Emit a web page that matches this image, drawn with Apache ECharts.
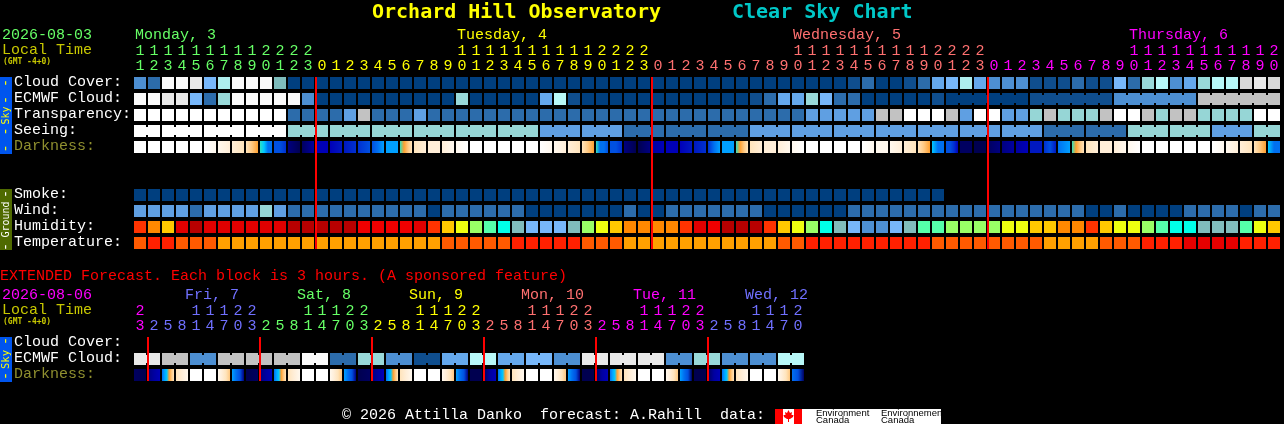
<!DOCTYPE html>
<html><head><meta charset="utf-8">
<style>html,body{margin:0;padding:0;background:#000}#c{width:1284px;height:424px}</style>
<script src="https://cdn.jsdelivr.net/npm/echarts@6/dist/echarts.min.js"></script>
</head><body><div id="c"></div>
<script>
const hoursMain=[11,12,13,14,15,16,17,18,19,20,21,22,23,0,1,2,3,4,5,6,7,8,9,10,11,12,13,14,15,16,17,18,19,20,21,22,23,0,1,2,3,4,5,6,7,8,9,10,11,12,13,14,15,16,17,18,19,20,21,22,23,0,1,2,3,4,5,6,7,8,9,10,11,12,13,14,15,16,17,18,19,20];
const hoursExt=[23,2,5,8,11,14,17,20,23,2,5,8,11,14,17,20,23,2,5,8,11,14,17,20,23,2,5,8,11,14,17,20,23,2,5,8,11,14,17,20,23,2,5,8,11,14,17,20];
const rowsMain=['Cloud Cover:','ECMWF Cloud:','Transparency:','Seeing:','Darkness:','','','Smoke:','Wind:','Humidity:','Temperature:'];
const rowsExt=['Cloud Cover:','ECMWF Cloud:','Darkness:'];
const daysMain=['Monday, 3','Tuesday, 4','Wednesday, 5','Thursday, 6'];
const daysExt=['Fri, 7','Sat, 8','Sun, 9','Mon, 10','Tue, 11','Wed, 12'];

const cloudCover=[20,10,100,100,90,40,70,100,100,100,50,
0,0,0,0,0,0,0,0,0,0,0,0,0,0,0,0,0,0,0,0,0,0,0,0,0,0,0,0,0,0,0,0,0,0,0,0,0,0,0,0,
5,10,0,0,5,10,30,40,70,30,20,20,20,5,5,5,10,5,5,40,10,60,75,20,30,60,75,75,85,90,85];
const ecmwfCloud=[100,100,90,90,40,10,60,100,100,100,100,100,20,
0,0,0,0,0,0,0,0,0,0,60,0,0,0,0,0,30,75,5,
0,0,0,0,0,0,0,0,0,0,0,0,5,10,30,30,60,40,10,10,
0,0,0,0,0,5,
0,0,0,0,0,0,5,5,5,5,5,5,20,20,20,20,20,20,80,80,80,80,80,80];
const ecmwfJoined=[[58,63],[64,69],[70,75],[76,81]];
const transparency=[5,5,5,5,5,5,5,5,5,5,5,1,1,1,1,2,4,1,1,1,2,
1,1,1,1,1,1,1,1,1,1,1,1,1,1,1,1,1,1,1,1,1,1,1,1,1,1,1,2,2,2,2,
2,4,4,5,5,5,4,2,5,5,2,2,3,4,3,3,3,4,5,5,4,3,4,4,3,3,3,3,5,5];
const seeingBlocks=[5,5,5,5,3,3,3,3,3,3,2,2,1,1,1,2,2,2,2,2,2,2,1,1,3,3,2,3];
const seeingSpans=[2,3,3,3,3,3,3,3,3,3,3,3,3,3,3,3,3,3,3,3,3,3,3,3,3,3,3,2];
const darkness=[[0],[0],[0],[0],[0],[0,1],[1,2],[2,3],[3,4,5],[6,7,9,9],[10,10,11],[15,17],[16,14],[13],[13,12],[12,11],[11,10],[10,9,8],[8],[6,5,4,3],[3,2],[2],[2,1],[1,0],
[0],[0],[0],[0],[0],[0,1],[1,2],[2,3],[3,4,5],[6,9,9,10],[10,10,11],[15,17],[17,15],[14,13],[13],[13,12],[12,11],[11,9,8],[8,8],[6,5,4,3],[3,2],[2],[2,1],[1,0],
[0],[0],[0],[0],[0,1],[1],[1,2],[2,3],[3,4,5],[7,9,9],[10,10,11,13],[16],[17],[16,15],[15,14],[14,13],[12],[11,10,12],[9,8],[6,5,4,3],[3,2],[2],[2,1],[1,0],
[0],[0],[0],[0],[0],[0,1],[1,2],[2,3],[3,4,5],[7,9,9]];
const smoke=[0,0,0,0,0,0,0,0,0,0,0,0,0,0,0,0,0,0,0,0,0,0,0,0,0,0,0,0,0,0,0,0,0,0,0,0,0,0,0,0,0,0,0,0,0,0,0,0,0,0,0,0,0,0,0,0,0,0];
const wind=[2,2,2,2,1,2,2,2,2,3,2,1,1,1,1,1,1,1,1,1,1,0,1,1,1,1,1,1,0,0,0,0,0,0,0,1,0,0,1,1,1,1,1,1,1,0,0,0,0,0,0,1,
1,1,1,1,1,1,1,1,1,1,1,1,1,1,1,1,0,0,1,0,0,0,0,1,1,1,1,0,1,1];
const humidity=[75,70,65,85,95,85,85,85,85,85,85,95,95,95,95,95,80,80,80,80,85,
75,65,60,55,50,45,40,35,35,35,40,55,60,65,70,70,70,70,75,85,80,95,95,95,75,65,60,55,45,40,35,
30,30,35,40,50,50,55,55,55,55,60,60,65,65,70,70,75,65,60,60,55,50,45,45,40,40,40,50,60,65];
const temperature=[25,30,30,25,25,25,20,20,20,20,20,20,20,20,20,20,20,20,20,20,20,20,25,25,25,25,25,30,30,30,30,30,25,25,25,
20,20,20,20,20,20,20,20,20,20,20,25,25,30,30,30,30,30,30,30,30,30,25,25,25,25,25,25,25,25,20,20,20,20,25,25,25,30,30,30,35,35,35,35,30,30,30];
const ecmwfExtBlocks=[90,80,20,80,80,80,100,10,60,20,5,30,75,30,40,20,90,90,90,20,60,20,20,75];
const darknessExt=[[16,17],[15,14,13],[9,8,7,5,4,3],[3,2,1],[0],[0],[1,2,3,4],[8,9,10,15],
[17,16],[15,14,13],[9,8,7,5,4,3],[3,2,1],[0],[0],[1,2,3,4],[8,9,10,15],
[17,16],[15,14,13],[9,8,7,5,4,3],[3,2,1],[0],[0],[1,2,3,4],[8,9,10,15],
[17,17],[16,14,13],[9,8,7,5,4,3],[3,2,1],[0],[0],[1,2,3,4],[8,9,10,15],
[17,17],[16,14,13],[9,8,7,5,4,3],[3,2,1],[0],[0],[1,2,3,4],[8,9,10,16],
[17,17],[16,14,13],[9,8,7,5,4,3],[3,2,1],[0],[0],[1,2,3,4],[9,10,16]];

const cloudColors={0:'#003f7f',5:'#0f4e8e',10:'#2c6cab',20:'#4d8fd2',30:'#65a8ec',40:'#77b7fa',50:'#7ebcbc',60:'#99d9d9',70:'#aeeeee',75:'#b8f8f8',80:'#c2c2c2',85:'#d8d8d8',90:'#e9e9e9',100:'#fafafa'};
const skyColors=['#003f7f','#2c6cab','#5f9fe2','#96d6d6','#c2c2c2','#ffffff'];
const humidityColors={30:'#4d8fd2',35:'#77b7fa',40:'#80bcbc',45:'#00ffe8',50:'#55ffaa',55:'#99ff66',60:'#eeff10',65:'#ffc800',70:'#ff8800',75:'#ff3300',80:'#f00000',85:'#e00000',95:'#b80000'};
const temperatureColors={20:'#ffa000',25:'#ff5a00',30:'#ff2000',35:'#e60000'};
const darknessColors=['#ffffff','#fff8ee','#ffeed8','#ffe4bc','#ffc880','#ffa030','#30e0c0','#00c8ff','#00a0ff','#0070f0','#0050e0','#0030d0','#0018c0','#0000b8','#0000a0','#000080','#000060','#000050'];
const dayColors=['#66ff66','#ffff00','#ff7070','#ff00ff','#7070ff'];
const FONT='"Liberation Mono",monospace';
const TITLE_FONT='"DejaVu Sans Mono",monospace';

function dayColorMain(c){return c<13?dayColors[0]:c<37?dayColors[1]:c<61?dayColors[2]:dayColors[3];}
function dayColorExt(c){if(c<1)return dayColors[3];return [dayColors[4],dayColors[0],dayColors[1],dayColors[2],dayColors[3],dayColors[4]][Math.floor((c-1)/8)];}

const cellsMain=[],joinsMain=[],darkMain=[];
function pushRow(arr,row,pal){arr.forEach((v,c)=>cellsMain.push([c,row,pal[v]]));}
pushRow(cloudCover,0,cloudColors);pushRow(ecmwfCloud,1,cloudColors);pushRow(transparency,2,skyColors);
pushRow(smoke,7,skyColors);pushRow(wind,8,skyColors);pushRow(humidity,9,humidityColors);pushRow(temperature,10,temperatureColors);
let sc=0;seeingBlocks.forEach((v,i)=>{for(let k=0;k<seeingSpans[i];k++,sc++){cellsMain.push([sc,3,skyColors[v]]);if(k<seeingSpans[i]-1)joinsMain.push([sc,3,skyColors[v]]);}});
ecmwfJoined.forEach(g=>{for(let c=g[0];c<g[1];c++)joinsMain.push([c,1,cloudColors[ecmwfCloud[c]]]);});
darkness.forEach((s,c)=>darkMain.push([c,4,c]));
const cellsExt=[],joinsExt=[],darkExt=[];
ecmwfExtBlocks.forEach((v,i)=>{cellsExt.push([2*i,1,cloudColors[v]],[2*i+1,1,cloudColors[v]]);joinsExt.push([2*i,1,cloudColors[v]]);});
darknessExt.forEach((s,c)=>darkExt.push([c,2,c]));

function cellRect(api){
  const p=api.coord([api.value(0),api.value(1)]);
  return {x:p[0]-6,y:p[1]-6,width:12,height:12};
}
function renderCell(params,api){
  return {type:'rect',shape:cellRect(api),style:{fill:api.value(2)},silent:true};
}
function renderJoin(params,api){
  const r=cellRect(api);
  return {type:'rect',shape:{x:r.x+12,y:r.y+2,width:2,height:8},style:{fill:api.value(2)},silent:true};
}
function gradRender(stopsTable){
  return function(params,api){
    const s=stopsTable[api.value(2)];
    const fill=s.length===1?darknessColors[s[0]]:new echarts.graphic.LinearGradient(0,0,1,0,s.map((l,i)=>({offset:i/(s.length-1),color:darknessColors[l]})));
    return {type:'rect',shape:cellRect(api),style:{fill:fill},silent:true};
  };
}
function renderRed(params,api){
  const a=api.coord([api.value(0),api.value(1)]),b=api.coord([api.value(0),api.value(2)]);
  return {type:'rect',shape:{x:a[0]-7,y:a[1]-6,width:2,height:b[1]-a[1]+12},style:{fill:'#ff0000'},silent:true,z2:50};
}
function custom(renderItem,data,xi,yi,z){
  return {type:'custom',coordinateSystem:'cartesian2d',xAxisIndex:xi,yAxisIndex:yi,renderItem,data,encode:{x:0,y:1},clip:false,z:z||2,animation:false,silent:true};
}
function xAx(grid,cats,fmt,colorFn,offset,margin){
  return {type:'category',gridIndex:grid,position:'top',offset,data:cats.map((h,i)=>i),axisLine:{show:false},axisTick:{show:false},splitLine:{show:false},
    axisLabel:{interval:0,margin,hideOverlap:false,fontFamily:FONT,fontSize:15,formatter:(v,i)=>fmt(cats[i]),color:(v,i)=>colorFn(+v)}};
}
function yAxHidden(grid,rows){
  return {type:'category',gridIndex:grid,inverse:true,data:rows,axisLine:{show:false},axisTick:{show:false},splitLine:{show:false},axisLabel:{show:false}};
}
function yAx(grid,rows){
  return {type:'category',gridIndex:grid,inverse:true,data:rows,axisLine:{show:false},axisTick:{show:false},splitLine:{show:false},
    axisLabel:{interval:0,margin:119,align:'left',fontFamily:FONT,fontSize:15,color:v=>v==='Darkness:'?'#8f8f2f':'#ffffff'}};
}
const xHidden=g=>({type:'category',gridIndex:g,show:false,data:['']});
const units=h=>String(h%10),tens=h=>h>=10?String(Math.floor(h/10)):'';
const LEFT=133,STEP=14;
function txt(text,x,y,fill,size,extra){
  const ex=extra||{};
  return Object.assign({type:'text',x,y,silent:true,z:100,style:{text,fill,font:(ex.bold?'bold ':'')+size+'px '+(ex.family||FONT),textAlign:ex.align||'left',textVerticalAlign:'middle'}},ex.rotation?{rotation:ex.rotation}:{});
}
const SANS='"Liberation Sans",sans-serif';
const UP=Math.PI/2;
const side=(t,y,c,s)=>txt(t,6,y,c,s,{align:'center',rotation:UP,family:TITLE_FONT});
const els=[
 txt('Orchard Hill Observatory',372,13,'#ffff00',20,{bold:true,family:TITLE_FONT}),
 txt('Clear Sky Chart',732,13,'#00c8c8',20,{bold:true,family:TITLE_FONT}),
 txt('2026-08-03',2,35,'#66ff66',15),
 txt('Local Time',2,50,'#c8c800',15),
 txt('(GMT -4+0)',3,62,'#c8c800',8,{bold:true,family:TITLE_FONT}),
 txt('EXTENDED Forecast. Each block is 3 hours. (A sponsored feature)',0,276,'#ff0000',15),
 txt('2026-08-06',2,295,'#ff00ff',15),
 txt('Local Time',2,310,'#c8c800',15),
 txt('(GMT -4+0)',3,322,'#c8c800',8,{bold:true,family:TITLE_FONT}),
 txt('\u00a9 2026 Attilla Danko  forecast: A.Rahill  data:',342,415,'#ffffff',15),
 {type:'rect',shape:{x:0,y:77,width:12,height:77},style:{fill:'#0055ee'},z:90,silent:true},
 {type:'rect',shape:{x:0,y:189,width:12,height:61},style:{fill:'#4f6a00'},z:90,silent:true},
 {type:'rect',shape:{x:0,y:337,width:12,height:45},style:{fill:'#0055ee'},z:90,silent:true},
 side('- -',91.5,'#ffff00',14),side('Sky',115.5,'#ffff00',10),side('- -',140,'#ffff00',14),
 side('-',194,'#ffffff',14),side('Ground',219.5,'#ffffff',10),side('-',247,'#ffffff',14),
 side('-',341,'#ffff00',14),side('Sky',359.5,'#ffff00',10.5),side('-',376,'#ffff00',14),
 {type:'rect',shape:{x:775,y:409,width:166,height:15},style:{fill:'#ffffff'},z:90,silent:true},
 {type:'rect',shape:{x:775,y:409,width:8,height:15},style:{fill:'#ff0000'},z:91,silent:true},
 {type:'rect',shape:{x:794,y:409,width:8,height:15},style:{fill:'#ff0000'},z:91,silent:true},
 {type:'polygon',shape:{points:[[788.5,410],[790,413],[792,412],[791.5,415],[793.5,415],[793,417],[790,419],[789,419],[789,422],[788,422],[788,419],[787,419],[784,417],[783.5,415],[785.5,415],[785,412],[787,413]]},style:{fill:'#ff0000'},z:91,silent:true},
 txt('Environment',816,413,'#000000',9.5,{family:SANS}),
 txt('Canada',816,420,'#000000',9.5,{family:SANS}),
 txt('Environnement',881,413,'#000000',9.5,{family:SANS}),
 txt('Canada',881,420,'#000000',9.5,{family:SANS})
];
[0,23,47,71].forEach((c,i)=>els.push(txt(daysMain[i],LEFT+STEP*c+2,35,dayColors[i],15)));
daysExt.forEach((d,i)=>els.push(txt(d,LEFT+STEP*(3+8*i)+10,295,[dayColors[4],dayColors[0],dayColors[1],dayColors[2],dayColors[3],dayColors[4]][i],15)));

const option={
 backgroundColor:'#000',animation:false,tooltip:{show:false},
 grid:[{left:LEFT,top:75,width:82*STEP,height:176},{left:LEFT,top:335,width:48*STEP,height:48},{left:LEFT,top:74,width:82*STEP,height:176},{left:LEFT,top:334,width:48*STEP,height:48}],
 xAxis:[xAx(0,hoursMain,units,dayColorMain,0,1),xAx(0,hoursMain,tens,dayColorMain,15,1),xAx(1,hoursExt,units,dayColorExt,0,1),xAx(1,hoursExt,tens,dayColorExt,15,1),xHidden(2),xHidden(3)],
 yAxis:[yAxHidden(0,rowsMain),yAxHidden(1,rowsExt),yAx(2,rowsMain),yAx(3,rowsExt)],
 series:[
  custom(renderCell,cellsMain,0,0),custom(renderJoin,joinsMain,0,0),custom(gradRender(darkness),darkMain,0,0),
  custom(renderRed,[[13,0,10],[37,0,10],[61,0,10]],0,0,10),
  custom(renderCell,cellsExt,2,1),custom(renderJoin,joinsExt,2,1),custom(gradRender(darknessExt),darkExt,2,1),
  custom(renderRed,[[1,0,2],[9,0,2],[17,0,2],[25,0,2],[33,0,2],[41,0,2]],2,1,10)
 ],
 graphic:{elements:els}
};
const chart=echarts.init(document.getElementById('c'),null,{renderer:'canvas',width:1284,height:424});
chart.setOption(option);
</script></body></html>
